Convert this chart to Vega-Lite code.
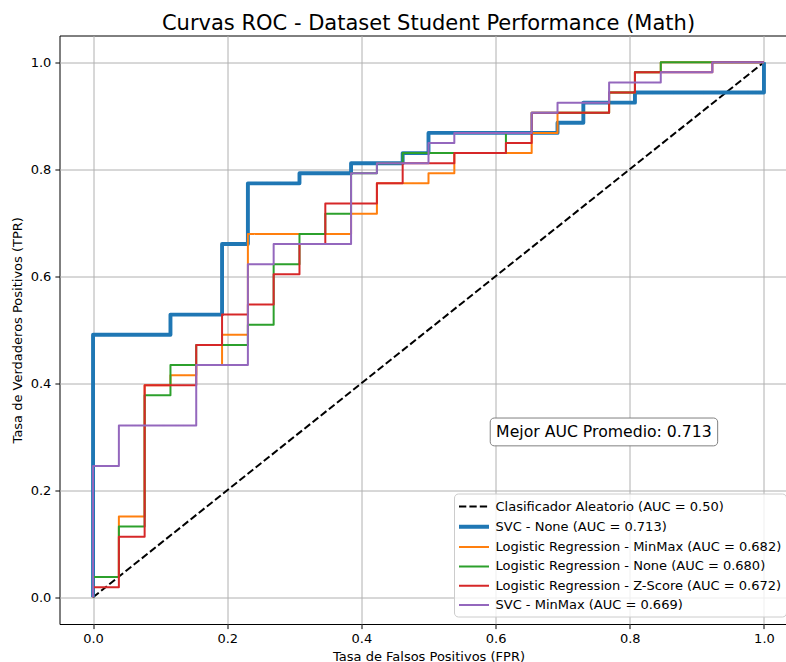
{
  "$schema": "https://vega.github.io/schema/vega-lite/v6.json",
  "autosize": {"type": "none"},
  "width": 738,
  "height": 588.5,
  "padding": {"left": 59.5, "top": 35.5, "right": -11.5, "bottom": 38},
  "background": "white",
  "title": {"text": "Curvas ROC - Dataset Student Performance (Math)", "fontSize": 21, "font": "DejaVu Sans", "fontWeight": "normal", "color": "black", "anchor": "middle", "baseline": "bottom", "offset": -19.5},
  "config": {
    "font": "DejaVu Sans",
    "view": {"stroke": "black", "strokeWidth": 1},
    "axis": {"labelFont": "DejaVu Sans", "labelFontSize": 13, "labelColor": "black", "titleFont": "DejaVu Sans", "titleFontSize": 13, "titleFontWeight": "normal", "titleColor": "black", "tickColor": "black", "tickSize": 4.6, "tickWidth": 1, "domain": false, "gridColor": "#b0b0b0", "gridWidth": 1, "labelPadding": 4}
  },
  "data": {"values": [
    {"serie": "Clasificador Aleatorio (AUC = 0.50)", "fpr": 0, "tpr": 0},
    {"serie": "Clasificador Aleatorio (AUC = 0.50)", "fpr": 1, "tpr": 1},
    {"serie": "SVC - None (AUC = 0.713)", "fpr": 0, "tpr": 0},
    {"serie": "SVC - None (AUC = 0.713)", "fpr": 0, "tpr": 0.4906},
    {"serie": "SVC - None (AUC = 0.713)", "fpr": 0.1154, "tpr": 0.4906},
    {"serie": "SVC - None (AUC = 0.713)", "fpr": 0.1154, "tpr": 0.5283},
    {"serie": "SVC - None (AUC = 0.713)", "fpr": 0.1923, "tpr": 0.5283},
    {"serie": "SVC - None (AUC = 0.713)", "fpr": 0.1923, "tpr": 0.6604},
    {"serie": "SVC - None (AUC = 0.713)", "fpr": 0.2308, "tpr": 0.6604},
    {"serie": "SVC - None (AUC = 0.713)", "fpr": 0.2308, "tpr": 0.7736},
    {"serie": "SVC - None (AUC = 0.713)", "fpr": 0.3077, "tpr": 0.7736},
    {"serie": "SVC - None (AUC = 0.713)", "fpr": 0.3077, "tpr": 0.7925},
    {"serie": "SVC - None (AUC = 0.713)", "fpr": 0.3846, "tpr": 0.7925},
    {"serie": "SVC - None (AUC = 0.713)", "fpr": 0.3846, "tpr": 0.8113},
    {"serie": "SVC - None (AUC = 0.713)", "fpr": 0.4615, "tpr": 0.8113},
    {"serie": "SVC - None (AUC = 0.713)", "fpr": 0.4615, "tpr": 0.8302},
    {"serie": "SVC - None (AUC = 0.713)", "fpr": 0.5, "tpr": 0.8302},
    {"serie": "SVC - None (AUC = 0.713)", "fpr": 0.5, "tpr": 0.8679},
    {"serie": "SVC - None (AUC = 0.713)", "fpr": 0.6923, "tpr": 0.8679},
    {"serie": "SVC - None (AUC = 0.713)", "fpr": 0.6923, "tpr": 0.8868},
    {"serie": "SVC - None (AUC = 0.713)", "fpr": 0.7308, "tpr": 0.8868},
    {"serie": "SVC - None (AUC = 0.713)", "fpr": 0.7308, "tpr": 0.9245},
    {"serie": "SVC - None (AUC = 0.713)", "fpr": 0.8077, "tpr": 0.9245},
    {"serie": "SVC - None (AUC = 0.713)", "fpr": 0.8077, "tpr": 0.9434},
    {"serie": "SVC - None (AUC = 0.713)", "fpr": 1, "tpr": 0.9434},
    {"serie": "SVC - None (AUC = 0.713)", "fpr": 1, "tpr": 1},
    {"serie": "Logistic Regression - MinMax (AUC = 0.682)", "fpr": 0, "tpr": 0},
    {"serie": "Logistic Regression - MinMax (AUC = 0.682)", "fpr": 0, "tpr": 0.0377},
    {"serie": "Logistic Regression - MinMax (AUC = 0.682)", "fpr": 0.0385, "tpr": 0.0377},
    {"serie": "Logistic Regression - MinMax (AUC = 0.682)", "fpr": 0.0385, "tpr": 0.1509},
    {"serie": "Logistic Regression - MinMax (AUC = 0.682)", "fpr": 0.0769, "tpr": 0.1509},
    {"serie": "Logistic Regression - MinMax (AUC = 0.682)", "fpr": 0.0769, "tpr": 0.3962},
    {"serie": "Logistic Regression - MinMax (AUC = 0.682)", "fpr": 0.1154, "tpr": 0.3962},
    {"serie": "Logistic Regression - MinMax (AUC = 0.682)", "fpr": 0.1154, "tpr": 0.4151},
    {"serie": "Logistic Regression - MinMax (AUC = 0.682)", "fpr": 0.1538, "tpr": 0.4151},
    {"serie": "Logistic Regression - MinMax (AUC = 0.682)", "fpr": 0.1538, "tpr": 0.434},
    {"serie": "Logistic Regression - MinMax (AUC = 0.682)", "fpr": 0.1923, "tpr": 0.434},
    {"serie": "Logistic Regression - MinMax (AUC = 0.682)", "fpr": 0.1923, "tpr": 0.4906},
    {"serie": "Logistic Regression - MinMax (AUC = 0.682)", "fpr": 0.2308, "tpr": 0.4906},
    {"serie": "Logistic Regression - MinMax (AUC = 0.682)", "fpr": 0.2308, "tpr": 0.6792},
    {"serie": "Logistic Regression - MinMax (AUC = 0.682)", "fpr": 0.3846, "tpr": 0.6792},
    {"serie": "Logistic Regression - MinMax (AUC = 0.682)", "fpr": 0.3846, "tpr": 0.717},
    {"serie": "Logistic Regression - MinMax (AUC = 0.682)", "fpr": 0.4231, "tpr": 0.717},
    {"serie": "Logistic Regression - MinMax (AUC = 0.682)", "fpr": 0.4231, "tpr": 0.7736},
    {"serie": "Logistic Regression - MinMax (AUC = 0.682)", "fpr": 0.5, "tpr": 0.7736},
    {"serie": "Logistic Regression - MinMax (AUC = 0.682)", "fpr": 0.5, "tpr": 0.7925},
    {"serie": "Logistic Regression - MinMax (AUC = 0.682)", "fpr": 0.5385, "tpr": 0.7925},
    {"serie": "Logistic Regression - MinMax (AUC = 0.682)", "fpr": 0.5385, "tpr": 0.8302},
    {"serie": "Logistic Regression - MinMax (AUC = 0.682)", "fpr": 0.6538, "tpr": 0.8302},
    {"serie": "Logistic Regression - MinMax (AUC = 0.682)", "fpr": 0.6538, "tpr": 0.8679},
    {"serie": "Logistic Regression - MinMax (AUC = 0.682)", "fpr": 0.6923, "tpr": 0.8679},
    {"serie": "Logistic Regression - MinMax (AUC = 0.682)", "fpr": 0.6923, "tpr": 0.9057},
    {"serie": "Logistic Regression - MinMax (AUC = 0.682)", "fpr": 0.7692, "tpr": 0.9057},
    {"serie": "Logistic Regression - MinMax (AUC = 0.682)", "fpr": 0.7692, "tpr": 0.9434},
    {"serie": "Logistic Regression - MinMax (AUC = 0.682)", "fpr": 0.8077, "tpr": 0.9434},
    {"serie": "Logistic Regression - MinMax (AUC = 0.682)", "fpr": 0.8077, "tpr": 0.9811},
    {"serie": "Logistic Regression - MinMax (AUC = 0.682)", "fpr": 0.8462, "tpr": 0.9811},
    {"serie": "Logistic Regression - MinMax (AUC = 0.682)", "fpr": 0.8462, "tpr": 1},
    {"serie": "Logistic Regression - MinMax (AUC = 0.682)", "fpr": 1, "tpr": 1},
    {"serie": "Logistic Regression - None (AUC = 0.680)", "fpr": 0, "tpr": 0},
    {"serie": "Logistic Regression - None (AUC = 0.680)", "fpr": 0, "tpr": 0.0377},
    {"serie": "Logistic Regression - None (AUC = 0.680)", "fpr": 0.0385, "tpr": 0.0377},
    {"serie": "Logistic Regression - None (AUC = 0.680)", "fpr": 0.0385, "tpr": 0.1321},
    {"serie": "Logistic Regression - None (AUC = 0.680)", "fpr": 0.0769, "tpr": 0.1321},
    {"serie": "Logistic Regression - None (AUC = 0.680)", "fpr": 0.0769, "tpr": 0.3774},
    {"serie": "Logistic Regression - None (AUC = 0.680)", "fpr": 0.1154, "tpr": 0.3774},
    {"serie": "Logistic Regression - None (AUC = 0.680)", "fpr": 0.1154, "tpr": 0.434},
    {"serie": "Logistic Regression - None (AUC = 0.680)", "fpr": 0.1538, "tpr": 0.434},
    {"serie": "Logistic Regression - None (AUC = 0.680)", "fpr": 0.1538, "tpr": 0.4717},
    {"serie": "Logistic Regression - None (AUC = 0.680)", "fpr": 0.2308, "tpr": 0.4717},
    {"serie": "Logistic Regression - None (AUC = 0.680)", "fpr": 0.2308, "tpr": 0.5094},
    {"serie": "Logistic Regression - None (AUC = 0.680)", "fpr": 0.2692, "tpr": 0.5094},
    {"serie": "Logistic Regression - None (AUC = 0.680)", "fpr": 0.2692, "tpr": 0.6226},
    {"serie": "Logistic Regression - None (AUC = 0.680)", "fpr": 0.3077, "tpr": 0.6226},
    {"serie": "Logistic Regression - None (AUC = 0.680)", "fpr": 0.3077, "tpr": 0.6792},
    {"serie": "Logistic Regression - None (AUC = 0.680)", "fpr": 0.3462, "tpr": 0.6792},
    {"serie": "Logistic Regression - None (AUC = 0.680)", "fpr": 0.3462, "tpr": 0.717},
    {"serie": "Logistic Regression - None (AUC = 0.680)", "fpr": 0.3846, "tpr": 0.717},
    {"serie": "Logistic Regression - None (AUC = 0.680)", "fpr": 0.3846, "tpr": 0.7925},
    {"serie": "Logistic Regression - None (AUC = 0.680)", "fpr": 0.4231, "tpr": 0.7925},
    {"serie": "Logistic Regression - None (AUC = 0.680)", "fpr": 0.4231, "tpr": 0.8113},
    {"serie": "Logistic Regression - None (AUC = 0.680)", "fpr": 0.4615, "tpr": 0.8113},
    {"serie": "Logistic Regression - None (AUC = 0.680)", "fpr": 0.4615, "tpr": 0.8302},
    {"serie": "Logistic Regression - None (AUC = 0.680)", "fpr": 0.6154, "tpr": 0.8302},
    {"serie": "Logistic Regression - None (AUC = 0.680)", "fpr": 0.6154, "tpr": 0.8679},
    {"serie": "Logistic Regression - None (AUC = 0.680)", "fpr": 0.6538, "tpr": 0.8679},
    {"serie": "Logistic Regression - None (AUC = 0.680)", "fpr": 0.6538, "tpr": 0.9057},
    {"serie": "Logistic Regression - None (AUC = 0.680)", "fpr": 0.7692, "tpr": 0.9057},
    {"serie": "Logistic Regression - None (AUC = 0.680)", "fpr": 0.7692, "tpr": 0.9434},
    {"serie": "Logistic Regression - None (AUC = 0.680)", "fpr": 0.8077, "tpr": 0.9434},
    {"serie": "Logistic Regression - None (AUC = 0.680)", "fpr": 0.8077, "tpr": 0.9811},
    {"serie": "Logistic Regression - None (AUC = 0.680)", "fpr": 0.8462, "tpr": 0.9811},
    {"serie": "Logistic Regression - None (AUC = 0.680)", "fpr": 0.8462, "tpr": 1},
    {"serie": "Logistic Regression - None (AUC = 0.680)", "fpr": 1, "tpr": 1},
    {"serie": "Logistic Regression - Z-Score (AUC = 0.672)", "fpr": 0, "tpr": 0},
    {"serie": "Logistic Regression - Z-Score (AUC = 0.672)", "fpr": 0, "tpr": 0.0189},
    {"serie": "Logistic Regression - Z-Score (AUC = 0.672)", "fpr": 0.0385, "tpr": 0.0189},
    {"serie": "Logistic Regression - Z-Score (AUC = 0.672)", "fpr": 0.0385, "tpr": 0.1132},
    {"serie": "Logistic Regression - Z-Score (AUC = 0.672)", "fpr": 0.0769, "tpr": 0.1132},
    {"serie": "Logistic Regression - Z-Score (AUC = 0.672)", "fpr": 0.0769, "tpr": 0.3962},
    {"serie": "Logistic Regression - Z-Score (AUC = 0.672)", "fpr": 0.1538, "tpr": 0.3962},
    {"serie": "Logistic Regression - Z-Score (AUC = 0.672)", "fpr": 0.1538, "tpr": 0.4717},
    {"serie": "Logistic Regression - Z-Score (AUC = 0.672)", "fpr": 0.1923, "tpr": 0.4717},
    {"serie": "Logistic Regression - Z-Score (AUC = 0.672)", "fpr": 0.1923, "tpr": 0.5283},
    {"serie": "Logistic Regression - Z-Score (AUC = 0.672)", "fpr": 0.2308, "tpr": 0.5283},
    {"serie": "Logistic Regression - Z-Score (AUC = 0.672)", "fpr": 0.2308, "tpr": 0.5472},
    {"serie": "Logistic Regression - Z-Score (AUC = 0.672)", "fpr": 0.2692, "tpr": 0.5472},
    {"serie": "Logistic Regression - Z-Score (AUC = 0.672)", "fpr": 0.2692, "tpr": 0.6038},
    {"serie": "Logistic Regression - Z-Score (AUC = 0.672)", "fpr": 0.3077, "tpr": 0.6038},
    {"serie": "Logistic Regression - Z-Score (AUC = 0.672)", "fpr": 0.3077, "tpr": 0.6604},
    {"serie": "Logistic Regression - Z-Score (AUC = 0.672)", "fpr": 0.3462, "tpr": 0.6604},
    {"serie": "Logistic Regression - Z-Score (AUC = 0.672)", "fpr": 0.3462, "tpr": 0.7358},
    {"serie": "Logistic Regression - Z-Score (AUC = 0.672)", "fpr": 0.4231, "tpr": 0.7358},
    {"serie": "Logistic Regression - Z-Score (AUC = 0.672)", "fpr": 0.4231, "tpr": 0.7736},
    {"serie": "Logistic Regression - Z-Score (AUC = 0.672)", "fpr": 0.4615, "tpr": 0.7736},
    {"serie": "Logistic Regression - Z-Score (AUC = 0.672)", "fpr": 0.4615, "tpr": 0.8113},
    {"serie": "Logistic Regression - Z-Score (AUC = 0.672)", "fpr": 0.5385, "tpr": 0.8113},
    {"serie": "Logistic Regression - Z-Score (AUC = 0.672)", "fpr": 0.5385, "tpr": 0.8302},
    {"serie": "Logistic Regression - Z-Score (AUC = 0.672)", "fpr": 0.6154, "tpr": 0.8302},
    {"serie": "Logistic Regression - Z-Score (AUC = 0.672)", "fpr": 0.6154, "tpr": 0.8491},
    {"serie": "Logistic Regression - Z-Score (AUC = 0.672)", "fpr": 0.6538, "tpr": 0.8491},
    {"serie": "Logistic Regression - Z-Score (AUC = 0.672)", "fpr": 0.6538, "tpr": 0.9057},
    {"serie": "Logistic Regression - Z-Score (AUC = 0.672)", "fpr": 0.7692, "tpr": 0.9057},
    {"serie": "Logistic Regression - Z-Score (AUC = 0.672)", "fpr": 0.7692, "tpr": 0.9434},
    {"serie": "Logistic Regression - Z-Score (AUC = 0.672)", "fpr": 0.8077, "tpr": 0.9434},
    {"serie": "Logistic Regression - Z-Score (AUC = 0.672)", "fpr": 0.8077, "tpr": 0.9811},
    {"serie": "Logistic Regression - Z-Score (AUC = 0.672)", "fpr": 0.9231, "tpr": 0.9811},
    {"serie": "Logistic Regression - Z-Score (AUC = 0.672)", "fpr": 0.9231, "tpr": 1},
    {"serie": "Logistic Regression - Z-Score (AUC = 0.672)", "fpr": 1, "tpr": 1},
    {"serie": "SVC - MinMax (AUC = 0.669)", "fpr": 0, "tpr": 0},
    {"serie": "SVC - MinMax (AUC = 0.669)", "fpr": 0, "tpr": 0.2453},
    {"serie": "SVC - MinMax (AUC = 0.669)", "fpr": 0.0385, "tpr": 0.2453},
    {"serie": "SVC - MinMax (AUC = 0.669)", "fpr": 0.0385, "tpr": 0.3208},
    {"serie": "SVC - MinMax (AUC = 0.669)", "fpr": 0.1538, "tpr": 0.3208},
    {"serie": "SVC - MinMax (AUC = 0.669)", "fpr": 0.1538, "tpr": 0.434},
    {"serie": "SVC - MinMax (AUC = 0.669)", "fpr": 0.2308, "tpr": 0.434},
    {"serie": "SVC - MinMax (AUC = 0.669)", "fpr": 0.2308, "tpr": 0.6226},
    {"serie": "SVC - MinMax (AUC = 0.669)", "fpr": 0.2692, "tpr": 0.6226},
    {"serie": "SVC - MinMax (AUC = 0.669)", "fpr": 0.2692, "tpr": 0.6604},
    {"serie": "SVC - MinMax (AUC = 0.669)", "fpr": 0.3846, "tpr": 0.6604},
    {"serie": "SVC - MinMax (AUC = 0.669)", "fpr": 0.3846, "tpr": 0.7925},
    {"serie": "SVC - MinMax (AUC = 0.669)", "fpr": 0.4231, "tpr": 0.7925},
    {"serie": "SVC - MinMax (AUC = 0.669)", "fpr": 0.4231, "tpr": 0.8113},
    {"serie": "SVC - MinMax (AUC = 0.669)", "fpr": 0.5, "tpr": 0.8113},
    {"serie": "SVC - MinMax (AUC = 0.669)", "fpr": 0.5, "tpr": 0.8491},
    {"serie": "SVC - MinMax (AUC = 0.669)", "fpr": 0.5385, "tpr": 0.8491},
    {"serie": "SVC - MinMax (AUC = 0.669)", "fpr": 0.5385, "tpr": 0.8679},
    {"serie": "SVC - MinMax (AUC = 0.669)", "fpr": 0.6538, "tpr": 0.8679},
    {"serie": "SVC - MinMax (AUC = 0.669)", "fpr": 0.6538, "tpr": 0.9057},
    {"serie": "SVC - MinMax (AUC = 0.669)", "fpr": 0.6923, "tpr": 0.9057},
    {"serie": "SVC - MinMax (AUC = 0.669)", "fpr": 0.6923, "tpr": 0.9245},
    {"serie": "SVC - MinMax (AUC = 0.669)", "fpr": 0.7692, "tpr": 0.9245},
    {"serie": "SVC - MinMax (AUC = 0.669)", "fpr": 0.7692, "tpr": 0.9623},
    {"serie": "SVC - MinMax (AUC = 0.669)", "fpr": 0.8462, "tpr": 0.9623},
    {"serie": "SVC - MinMax (AUC = 0.669)", "fpr": 0.8462, "tpr": 0.9811},
    {"serie": "SVC - MinMax (AUC = 0.669)", "fpr": 0.9231, "tpr": 0.9811},
    {"serie": "SVC - MinMax (AUC = 0.669)", "fpr": 0.9231, "tpr": 1},
    {"serie": "SVC - MinMax (AUC = 0.669)", "fpr": 1, "tpr": 1}
  ]},
  "layer": [
    {
      "mark": {"type": "line", "strokeJoin": "round", "strokeCap": "butt"},
      "encoding": {
        "x": {"field": "fpr", "type": "quantitative", "scale": {"domain": [-0.05, 1.05], "nice": false, "zero": false}, "axis": {"values": [0, 0.2, 0.4, 0.6, 0.8, 1], "format": ".1f", "title": "Tasa de Falsos Positivos (FPR)", "titlePadding": 5, "labelFlush": false}},
        "y": {"field": "tpr", "type": "quantitative", "scale": {"domain": [-0.05, 1.05], "nice": false, "zero": false}, "axis": {"values": [0, 0.2, 0.4, 0.6, 0.8, 1], "format": ".1f", "title": "Tasa de Verdaderos Positivos (TPR)", "titlePadding": 6, "labelFlush": false}},
        "order": {"value": null},
        "color": {"field": "serie", "type": "nominal",
          "scale": {"type": "ordinal", "domain": ["Clasificador Aleatorio (AUC = 0.50)", "SVC - None (AUC = 0.713)", "Logistic Regression - MinMax (AUC = 0.682)", "Logistic Regression - None (AUC = 0.680)", "Logistic Regression - Z-Score (AUC = 0.672)", "SVC - MinMax (AUC = 0.669)"], "range": ["#000000", "#1f77b4", "#ff7f0e", "#2ca02c", "#d62728", "#9467bd"]},
          "legend": {"orient": "none", "legendX": 394.5, "legendY": 458, "title": null, "symbolType": "M-2,0H2", "symbolSize": 225, "symbolOffset": 6, "labelOffset": 12, "labelFontSize": 13, "labelFont": "DejaVu Sans", "labelColor": "black", "rowPadding": 3.3, "padding": 4.5, "fillColor": "rgba(255,255,255,0.8)", "strokeColor": "#cccccc", "cornerRadius": 4, "labelLimit": 400}},
        "strokeDash": {"field": "serie", "type": "nominal",
          "scale": {"type": "ordinal", "domain": ["Clasificador Aleatorio (AUC = 0.50)", "SVC - None (AUC = 0.713)", "Logistic Regression - MinMax (AUC = 0.682)", "Logistic Regression - None (AUC = 0.680)", "Logistic Regression - Z-Score (AUC = 0.672)", "SVC - MinMax (AUC = 0.669)"], "range": [[7.3, 3.1], [1, 0], [1, 0], [1, 0], [1, 0], [1, 0]]},
          "legend": {"orient": "none", "legendX": 394.5, "legendY": 458, "title": null, "symbolType": "M-2,0H2", "symbolSize": 225, "symbolOffset": 6, "labelOffset": 12, "labelFontSize": 13, "labelFont": "DejaVu Sans", "labelColor": "black", "rowPadding": 3.3, "padding": 4.5, "fillColor": "rgba(255,255,255,0.8)", "strokeColor": "#cccccc", "cornerRadius": 4, "labelLimit": 400}},
        "strokeWidth": {"field": "serie", "type": "nominal",
          "scale": {"type": "ordinal", "domain": ["Clasificador Aleatorio (AUC = 0.50)", "SVC - None (AUC = 0.713)", "Logistic Regression - MinMax (AUC = 0.682)", "Logistic Regression - None (AUC = 0.680)", "Logistic Regression - Z-Score (AUC = 0.672)", "SVC - MinMax (AUC = 0.669)"], "range": [2, 3.9, 2, 2, 2, 2]},
          "legend": {"orient": "none", "legendX": 394.5, "legendY": 458, "title": null, "symbolType": "M-2,0H2", "symbolSize": 225, "symbolOffset": 6, "labelOffset": 12, "labelFontSize": 13, "labelFont": "DejaVu Sans", "labelColor": "black", "rowPadding": 3.3, "padding": 4.5, "fillColor": "rgba(255,255,255,0.8)", "strokeColor": "#cccccc", "cornerRadius": 4, "labelLimit": 400}}
      }
    },
    {
      "data": {"values": [{"label": "Mejor AUC Promedio: 0.713"}]},
      "mark": {"type": "rect", "fill": "white", "stroke": "#808080", "strokeWidth": 1, "cornerRadius": 4},
      "encoding": {
        "x": {"datum": 0.592, "type": "quantitative", "scale": {"domain": [-0.05, 1.05], "nice": false, "zero": false}, "axis": {"values": [0, 0.2, 0.4, 0.6, 0.8, 1], "format": ".1f", "title": "Tasa de Falsos Positivos (FPR)", "titlePadding": 5, "labelFlush": false}},
        "x2": {"datum": 0.931},
        "y": {"datum": 0.283, "type": "quantitative", "scale": {"domain": [-0.05, 1.05], "nice": false, "zero": false}, "axis": {"values": [0, 0.2, 0.4, 0.6, 0.8, 1], "format": ".1f", "title": "Tasa de Verdaderos Positivos (TPR)", "titlePadding": 6, "labelFlush": false}},
        "y2": {"datum": 0.335}
      }
    },
    {
      "data": {"values": [{"label": "Mejor AUC Promedio: 0.713"}]},
      "mark": {"type": "text", "fontSize": 15.7, "font": "DejaVu Sans", "color": "black", "align": "center", "baseline": "middle"},
      "encoding": {
        "text": {"field": "label", "type": "nominal"},
        "x": {"datum": 0.7615, "type": "quantitative", "scale": {"domain": [-0.05, 1.05], "nice": false, "zero": false}, "axis": {"values": [0, 0.2, 0.4, 0.6, 0.8, 1], "format": ".1f", "title": "Tasa de Falsos Positivos (FPR)", "titlePadding": 5, "labelFlush": false}},
        "y": {"datum": 0.309, "type": "quantitative", "scale": {"domain": [-0.05, 1.05], "nice": false, "zero": false}, "axis": {"values": [0, 0.2, 0.4, 0.6, 0.8, 1], "format": ".1f", "title": "Tasa de Verdaderos Positivos (TPR)", "titlePadding": 6, "labelFlush": false}}
      }
    }
  ]
}
